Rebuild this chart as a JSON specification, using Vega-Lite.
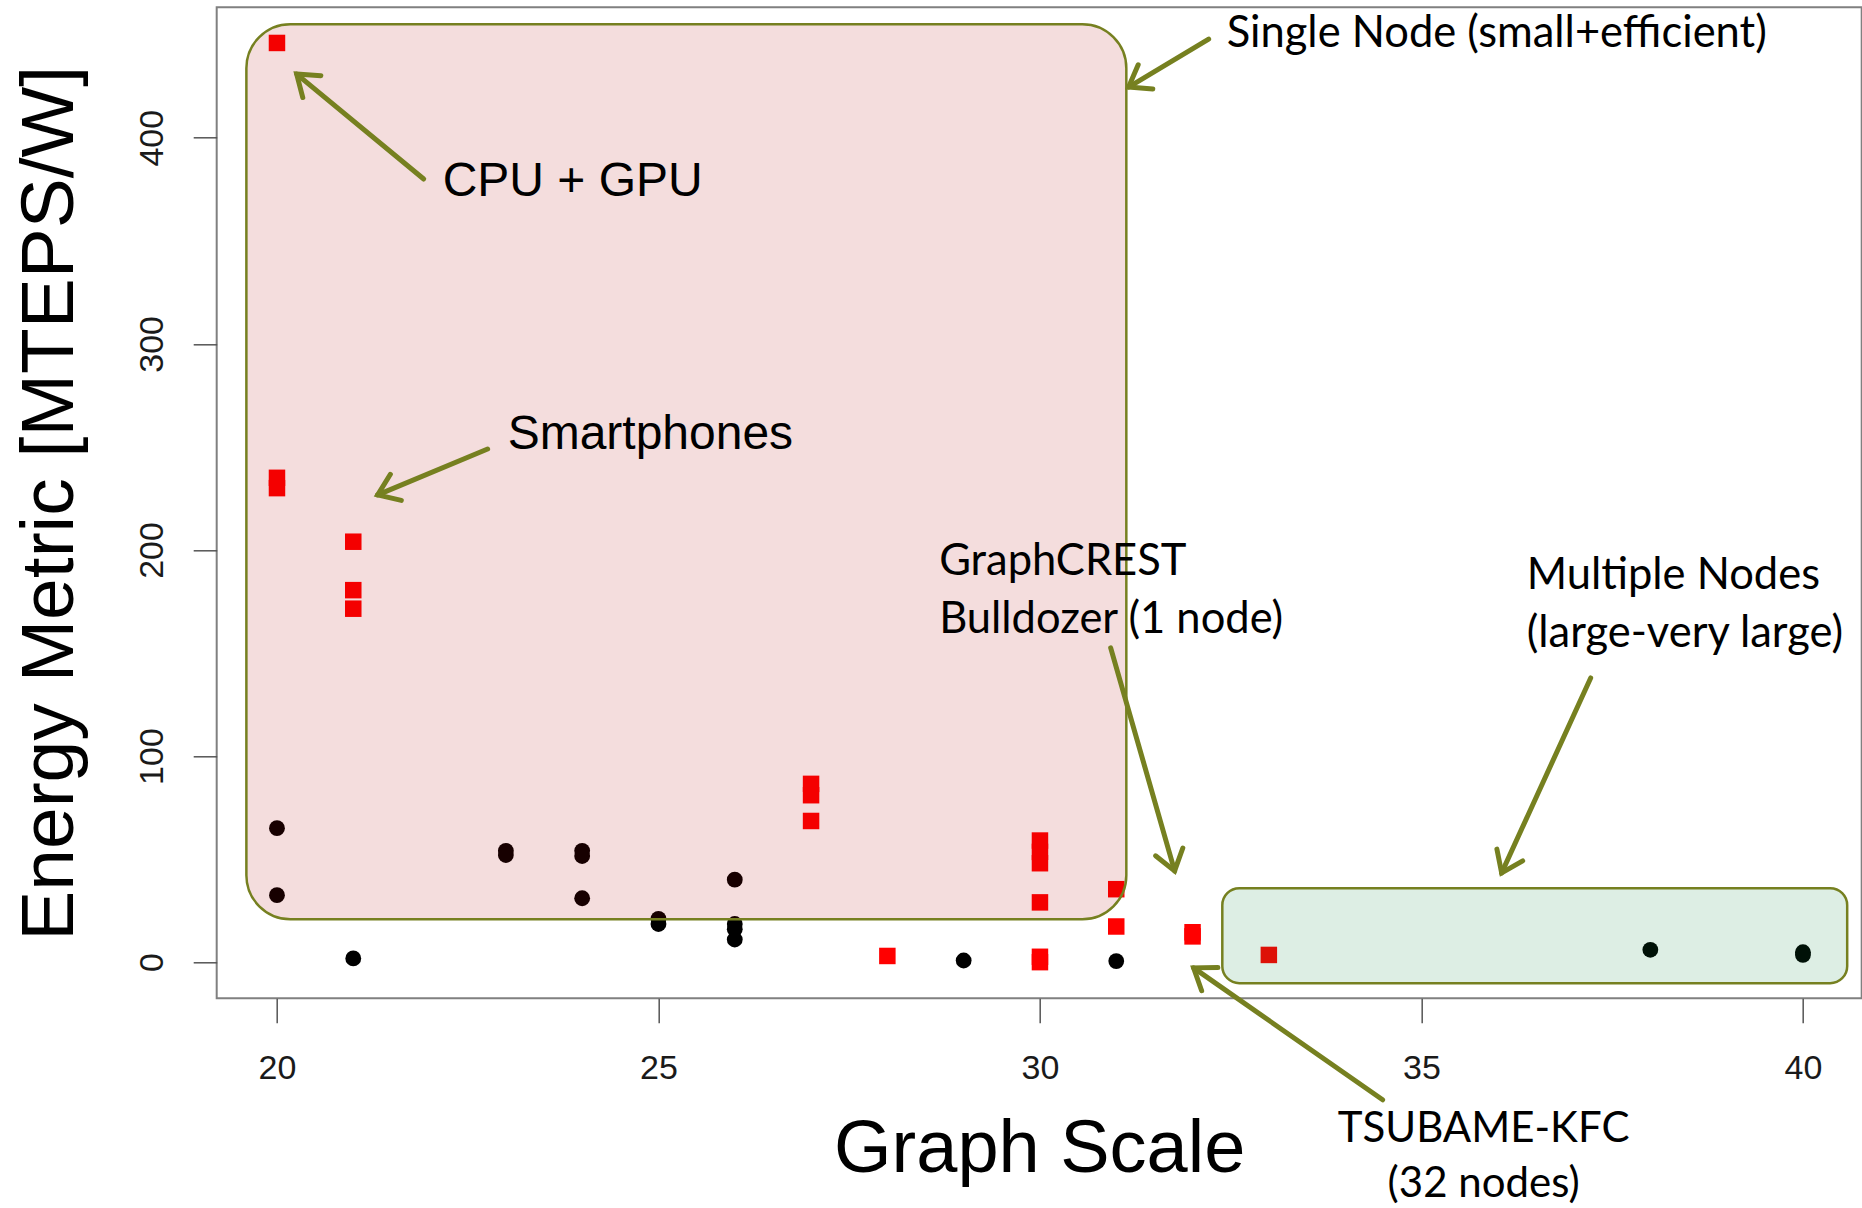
{
  "$schema": "https://vega.github.io/schema/vega-lite/v6.json",
  "autosize": {"type": "none"},
  "padding": {"left": 216.7, "top": 7.3, "right": 0, "bottom": 209.7},
  "width": 1645,
  "height": 991,
  "background": "white",
  "config": {"view": {"stroke": "#808080", "strokeWidth": 2}},
  "datasets": {
    "points": [
      {"scale": 20, "metric": 446, "kind": "red"},
      {"scale": 20, "metric": 235, "kind": "red"},
      {"scale": 20, "metric": 230, "kind": "red"},
      {"scale": 21, "metric": 204, "kind": "red"},
      {"scale": 21, "metric": 180.5, "kind": "red"},
      {"scale": 21, "metric": 171.5, "kind": "red"},
      {"scale": 27, "metric": 86.5, "kind": "red"},
      {"scale": 27, "metric": 81, "kind": "red"},
      {"scale": 27, "metric": 68.5, "kind": "red"},
      {"scale": 28, "metric": 3, "kind": "red"},
      {"scale": 30, "metric": 59, "kind": "red"},
      {"scale": 30, "metric": 53.5, "kind": "red"},
      {"scale": 30, "metric": 48, "kind": "red"},
      {"scale": 30, "metric": 29, "kind": "red"},
      {"scale": 30, "metric": 2.6, "kind": "red"},
      {"scale": 30, "metric": 0, "kind": "red"},
      {"scale": 31, "metric": 35.4, "kind": "red"},
      {"scale": 31, "metric": 17.3, "kind": "red"},
      {"scale": 32, "metric": 14.5, "kind": "red"},
      {"scale": 32, "metric": 12.5, "kind": "red"},
      {"scale": 33, "metric": 3.5, "kind": "red"},
      {"scale": 20, "metric": 65, "kind": "black"},
      {"scale": 20, "metric": 32.5, "kind": "black"},
      {"scale": 21, "metric": 1.8, "kind": "black"},
      {"scale": 23, "metric": 54, "kind": "black"},
      {"scale": 23, "metric": 52, "kind": "black"},
      {"scale": 24, "metric": 54, "kind": "black"},
      {"scale": 24, "metric": 51.5, "kind": "black"},
      {"scale": 24, "metric": 31, "kind": "black"},
      {"scale": 25, "metric": 21, "kind": "black"},
      {"scale": 25, "metric": 18.5, "kind": "black"},
      {"scale": 26, "metric": 40, "kind": "black"},
      {"scale": 26, "metric": 18.5, "kind": "black"},
      {"scale": 26, "metric": 16, "kind": "black"},
      {"scale": 26, "metric": 11, "kind": "black"},
      {"scale": 29, "metric": 0.8, "kind": "black"},
      {"scale": 31, "metric": 0.5, "kind": "black"},
      {"scale": 38, "metric": 6, "kind": "black"},
      {"scale": 40, "metric": 3.5, "kind": "black"},
      {"scale": 40, "metric": 4.8, "kind": "black"}
    ],
    "boxes": [
      {"region": "single", "x1": 19.599, "x2": 31.132, "y1": 455.1, "y2": 20.86},
      {"region": "multiple", "x1": 32.39, "x2": 40.58, "y1": 35.9, "y2": -10.19}
    ],
    "arrows": [
      {"name": "cpu", "x1": 21.923, "y1": 380.0, "x2": 20.258, "y2": 430.9, "heading": -140.4},
      {"name": "phones", "x1": 22.761, "y1": 249.0, "x2": 21.32, "y2": 226.7, "heading": 157.3},
      {"name": "single", "x1": 32.211, "y1": 447.9, "x2": 31.162, "y2": 424.6, "heading": 149.0},
      {"name": "graphcrest", "x1": 30.927, "y1": 152.5, "x2": 31.765, "y2": 44.3, "heading": 74.0},
      {"name": "multiple", "x1": 37.218, "y1": 137.9, "x2": 36.051, "y2": 43.3, "heading": 114.5},
      {"name": "tsubame", "x1": 34.491, "y1": -66.8, "x2": 32.014, "y2": -2.76, "heading": -145.1}
    ],
    "labels": [
      {"text": "CPU + GPU", "x": 22.172, "y": 371.7, "style": "sans"},
      {"text": "Smartphones", "x": 23.024, "y": 249.0, "style": "sans"},
      {"text": "Single Node (small+efficient)", "x": 32.447, "y": 444.0, "style": "humanist"},
      {"text": "GraphCREST", "x": 28.679, "y": 187.9, "style": "humanist"},
      {"text": "Bulldozer (1 node)", "x": 28.679, "y": 159.7, "style": "humanist"},
      {"text": "Multiple Nodes", "x": 36.379, "y": 181.1, "style": "humanist"},
      {"text": "(large-very large)", "x": 36.379, "y": 152.9, "style": "humanist"},
      {"text": "TSUBAME-KFC", "x": 35.815, "y": -87.5, "style": "centered"},
      {"text": "(32 nodes)", "x": 35.815, "y": -113.8, "style": "centered"}
    ]
  },
  "encoding": {
    "x": {
      "type": "quantitative",
      "scale": {"domain": [19.21, 40.77], "nice": false, "zero": false},
      "axis": {
        "values": [20, 25, 30, 35, 40],
        "domain": false, "grid": false,
        "tickSize": 24.4, "tickColor": "#555555", "tickWidth": 1.5,
        "labelFont": "Liberation Sans", "labelFontSize": 34, "labelColor": "#1a1a1a",
        "labelPadding": 55.6, "labelBaseline": "alphabetic", "labelFlush": false, "labelOverlap": false,
        "title": "Graph Scale", "titleFont": "Liberation Sans", "titleFontSize": 74,
        "titleFontWeight": "normal", "titleColor": "#000000", "titleBaseline": "alphabetic", "titleY": 173.7
      }
    },
    "y": {
      "type": "quantitative",
      "scale": {"domain": [-17.54, 463.3], "nice": false, "zero": false},
      "axis": {
        "values": [0, 100, 200, 300, 400],
        "domain": false, "grid": false,
        "tickSize": 23.5, "tickColor": "#555555", "tickWidth": 1.5,
        "labelFont": "Liberation Sans", "labelFontSize": 34, "labelColor": "#1a1a1a",
        "labelAngle": 270, "labelAlign": "center", "labelBaseline": "alphabetic", "labelPadding": 30.5,
        "labelFlush": false, "labelOverlap": false,
        "title": "Energy Metric [MTEPS/W]", "titleFont": "Liberation Sans", "titleFontSize": 75,
        "titleFontWeight": "normal", "titleColor": "#000000", "titleAngle": 270, "titleAlign": "center",
        "titleBaseline": "alphabetic", "titleX": -143.7, "titleY": 495.5
      }
    }
  },
  "layer": [
    {
      "data": {"name": "points"},
      "mark": {"type": "point", "filled": true, "opacity": 1, "strokeWidth": 0},
      "encoding": {
        "x": {"field": "scale", "type": "quantitative"},
        "y": {"field": "metric", "type": "quantitative"},
        "shape": {"field": "kind", "type": "nominal", "scale": {"domain": ["red", "black"], "range": ["square", "circle"]}, "legend": null},
        "color": {"field": "kind", "type": "nominal", "scale": {"domain": ["red", "black"], "range": ["#ff0000", "#000000"]}, "legend": null},
        "size": {"field": "kind", "type": "nominal", "scale": {"domain": ["red", "black"], "range": [272, 250]}, "legend": null}
      }
    },
    {
      "data": {"name": "boxes"},
      "transform": [{"filter": "datum.region === 'single'"}],
      "mark": {"type": "rect", "cornerRadius": 44, "fill": "#ad0000", "fillOpacity": 0.135, "stroke": "#768020", "strokeWidth": 2.5, "strokeOpacity": 1},
      "encoding": {
        "x": {"field": "x1", "type": "quantitative"},
        "x2": {"field": "x2"},
        "y": {"field": "y1", "type": "quantitative"},
        "y2": {"field": "y2"}
      }
    },
    {
      "data": {"name": "boxes"},
      "transform": [{"filter": "datum.region === 'multiple'"}],
      "mark": {"type": "rect", "cornerRadius": 17, "fill": "#007c33", "fillOpacity": 0.135, "stroke": "#768020", "strokeWidth": 2.5, "strokeOpacity": 1},
      "encoding": {
        "x": {"field": "x1", "type": "quantitative"},
        "x2": {"field": "x2"},
        "y": {"field": "y1", "type": "quantitative"},
        "y2": {"field": "y2"}
      }
    },
    {
      "data": {"name": "arrows"},
      "mark": {"type": "rule", "strokeWidth": 5, "color": "#768020", "strokeCap": "round"},
      "encoding": {
        "x": {"field": "x1", "type": "quantitative"},
        "y": {"field": "y1", "type": "quantitative"},
        "x2": {"field": "x2"},
        "y2": {"field": "y2"}
      }
    },
    {
      "data": {"name": "arrows"},
      "mark": {"type": "point", "shape": "M-1,-0.72L0,0L-1,0.72", "filled": false, "stroke": "#768020", "strokeWidth": 5, "strokeCap": "round", "strokeJoin": "miter", "size": 1550, "opacity": 1},
      "encoding": {
        "x": {"field": "x2", "type": "quantitative"},
        "y": {"field": "y2", "type": "quantitative"},
        "angle": {"field": "heading", "type": "quantitative", "scale": null}
      }
    },
    {
      "data": {"name": "labels"},
      "transform": [{"filter": "datum.style === 'sans'"}],
      "mark": {"type": "text", "font": "Liberation Sans", "fontSize": 48, "align": "left", "baseline": "alphabetic", "color": "#000000"},
      "encoding": {
        "x": {"field": "x", "type": "quantitative"},
        "y": {"field": "y", "type": "quantitative"},
        "text": {"field": "text"}
      }
    },
    {
      "data": {"name": "labels"},
      "transform": [{"filter": "datum.style === 'humanist'"}],
      "mark": {"type": "text", "font": "Lato", "fontSize": 43.5, "align": "left", "baseline": "alphabetic", "color": "#000000"},
      "encoding": {
        "x": {"field": "x", "type": "quantitative"},
        "y": {"field": "y", "type": "quantitative"},
        "text": {"field": "text"}
      }
    },
    {
      "data": {"name": "labels"},
      "transform": [{"filter": "datum.style === 'centered'"}],
      "mark": {"type": "text", "font": "Lato", "fontSize": 42, "align": "center", "baseline": "alphabetic", "color": "#000000"},
      "encoding": {
        "x": {"field": "x", "type": "quantitative"},
        "y": {"field": "y", "type": "quantitative"},
        "text": {"field": "text"}
      }
    }
  ]
}
